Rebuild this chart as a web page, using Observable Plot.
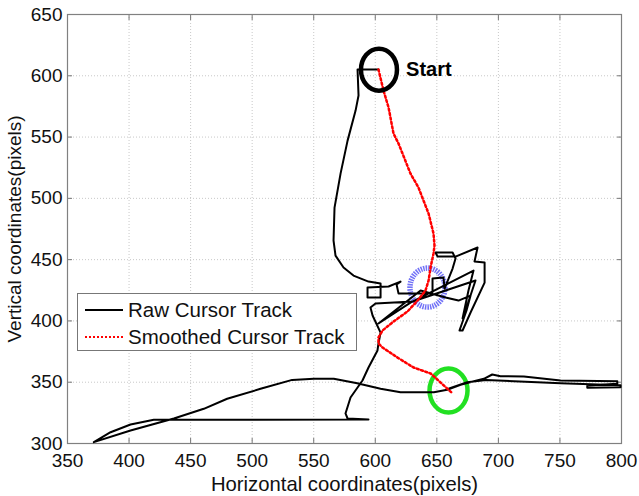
<!DOCTYPE html>
<html><head><meta charset="utf-8">
<script src="https://cdn.jsdelivr.net/npm/d3@7"></script>
<script src="https://cdn.jsdelivr.net/npm/@observablehq/plot@0.6"></script>
<style>
body{margin:0;background:#fff;}
#wrap{position:relative;width:639px;height:496px;font-family:"Liberation Sans",Arial,sans-serif;}
#legend{position:absolute;left:77px;top:293px;width:280px;height:58px;border:1px solid #777;background:#fff;box-sizing:border-box;}
.row{position:absolute;left:7px;height:22px;display:flex;align-items:center;font-size:20.5px;color:#111;white-space:nowrap;}
.sw{width:38px;margin-right:5px;height:0;}
</style></head>
<body><div id="wrap"></div>
<script>
// Raw cursor track (x, y in screen pixels of the recorded display)
const rawX = [602.6,585.6,586.4,584.0,577.5,571.8,566.9,566.1,567.7,574.2,582.3,594.5,604.3,
  604.3,593.7,593.7,610.8,620.5,617.3,618.9,646.5,646.5,655.4,656.3,662.8,665.2,662.8,648.9,650.6,665.2,
  683.1,680.6,688.8,688.8,677.4,670.9,668.4,674.1,677.4,667.6,657.1,636.8,602.6,628.6,679.8,675.7,670.9,
  673.3,681.4,657.1,630.3,600.2,596.1,597.8,604.3,602.6,601.8,594.5,589.6,579.9,575.8,577.5,594.5,
  420.1,401.2,385.0,371.4,401.2,436.4,460.7,479.7,506.8,532.5,550.1,566.3,585.3,604.3,620.5,647.6,658.4,
  669.3,680.1,688.2,695.0,701.7,720.7,750.5,796.6,796.6,772.2,772.2,799.2,799.2,750.5,690.0,674.7,660.0];
const rawY = [605.1,605.1,583.9,571.6,547.1,520.2,492.5,465.6,453.3,443.6,437.0,432.1,430.5,
  419.1,419.1,427.2,428.1,432.1,429.7,422.3,422.3,434.6,435.4,426.4,442.7,450.9,455.8,455.8,452.5,452.5,
  459.9,448.5,447.6,431.3,406.9,392.2,392.2,408.5,420.7,416.6,419.1,424.8,397.9,415.0,441.1,424.8,402.0,
  408.5,433.0,424.8,415.8,414.2,410.9,404.4,390.5,381.6,375.9,362.0,351.4,337.5,324.5,320.4,319.6,
  319.3,315.5,309.2,301.1,310.6,320.4,328.3,336.5,344.6,351.9,352.8,352.8,349.2,344.6,341.8,341.8,343.8,
  347.9,350.8,352.8,356.3,354.9,354.6,351.4,350.8,348.7,347.3,345.4,345.9,347.5,349.2,351.8,350.0,345.0];
// Smoothed cursor track
const smoothX = [602.6,606.7,610.8,614.8,618.9,628.6,635.1,643.3,647.3,648.1,647.3,644.9,643.3,640.8,
  634.3,626.2,614.8,605.9,602.6,602.6,605.9,618.1,631.1,645.0,653.0,662.8];
const smoothY = [605.1,587.9,574.1,552.9,544.7,520.2,508.8,487.6,471.3,461.5,455.0,443.6,433.0,424.8,
  416.6,407.7,399.5,392.2,386.5,381.6,378.3,370.1,362.0,357.1,349.8,340.8];
// Annotations
const startPoint = [603, 605];
const endPoint = [659.5, 343.2];
const focusPoint = [642.4, 427.2];
const startLabel = "Start";
const xTicks = [350,400,450,500,550,600,650,700,750,800];
const yTicks = [300,350,400,450,500,550,600,650];
const seriesNames = ["Raw Cursor Track", "Smoothed Cursor Track"];
const xLabel = "Horizontal coordinates(pixels)";
const yLabel = "Vertical coordinates(pixels)";

const raw = rawX.map((x, i) => ({x, y: rawY[i]}));
const smooth = smoothX.map((x, i) => ({x, y: smoothY[i]}));

function ellipse(rx, ry) {
  const k = 0.5523;
  return {draw(c) {
    c.moveTo(rx, 0);
    c.bezierCurveTo(rx, k*ry, k*rx, ry, 0, ry);
    c.bezierCurveTo(-k*rx, ry, -rx, k*ry, -rx, 0);
    c.bezierCurveTo(-rx, -k*ry, -k*rx, -ry, 0, -ry);
    c.bezierCurveTo(k*rx, -ry, rx, -k*ry, rx, 0);
    c.closePath();
  }};
}

const chart = Plot.plot({
  width: 639, height: 496,
  marginLeft: 67, marginRight: 18, marginTop: 14, marginBottom: 53,
  style: {fontFamily: '"Liberation Sans", Arial, sans-serif', fontSize: "19px", color: "#111", background: "#fff"},
  x: {domain: [350, 800]},
  y: {domain: [300, 650]},
  marks: [
    Plot.gridX(xTicks, {stroke: "#c8c8c8", strokeOpacity: 1, strokeDasharray: "1,2"}),
    Plot.gridY(yTicks, {stroke: "#c8c8c8", strokeOpacity: 1, strokeDasharray: "1,2"}),
    Plot.axisX(xTicks, {anchor: "bottom", tickSize: 0, tickPadding: 10, label: null}),
    Plot.axisX({anchor: "bottom", ticks: [], tickSize: 0, label: xLabel, labelAnchor: "center", labelOffset: 47, labelArrow: "none", fontSize: 20.3}),
    Plot.axisY(yTicks, {anchor: "left", tickSize: 0, tickPadding: 5, label: yLabel, labelAnchor: "center", labelOffset: 60, labelArrow: "none"}),
    Plot.axisX(xTicks, {anchor: "bottom", tickSize: -5, tickFormat: () => "", label: null, stroke: "#777"}),
    Plot.axisX(xTicks, {anchor: "top", tickSize: -5, tickFormat: () => "", label: null, stroke: "#777"}),
    Plot.axisY(yTicks, {anchor: "left", tickSize: -5, tickFormat: () => "", label: null, stroke: "#777"}),
    Plot.axisY(yTicks, {anchor: "right", tickSize: -5, tickFormat: () => "", label: null, stroke: "#777"}),
    Plot.frame({stroke: "#808080", strokeWidth: 1.2}),
    Plot.dot([focusPoint], {x: d => d[0], y: d => d[1], symbol: ellipse(17.5, 19.5), stroke: "#5050f5", strokeOpacity: 0.8, strokeWidth: 5.5, strokeDasharray: "1.5,1", fill: "none"}),
    Plot.dot([endPoint], {x: d => d[0], y: d => d[1], symbol: ellipse(19, 22), stroke: "#22e022", strokeWidth: 4.5, fill: "none"}),
    Plot.line(raw, {x: "x", y: "y", stroke: "#000", strokeWidth: 2, strokeLinejoin: "round"}),
    Plot.line(smooth, {x: "x", y: "y", stroke: "#ff0000", strokeWidth: 2.5, strokeDasharray: "2,2.5"}),
    Plot.dot([startPoint], {x: d => d[0], y: d => d[1], symbol: ellipse(18, 21), stroke: "#000", strokeWidth: 4.5, fill: "none"}),
    Plot.text([startLabel], {x: startPoint[0] + 22, y: startPoint[1], text: d => d, textAnchor: "start", fontWeight: "bold", fontSize: 20, fill: "#000"})
  ]
});

const wrap = document.getElementById("wrap");
wrap.appendChild(chart);
const legend = document.createElement("div");
legend.id = "legend";
legend.innerHTML = `
  <div class="row" style="top:5px"><div class="sw" style="border-top:2px solid #000"></div>${seriesNames[0]}</div>
  <div class="row" style="top:32px"><div class="sw" style="border-top:2px dotted #ff0000"></div>${seriesNames[1]}</div>`;
wrap.appendChild(legend);
</script>
</body></html>
